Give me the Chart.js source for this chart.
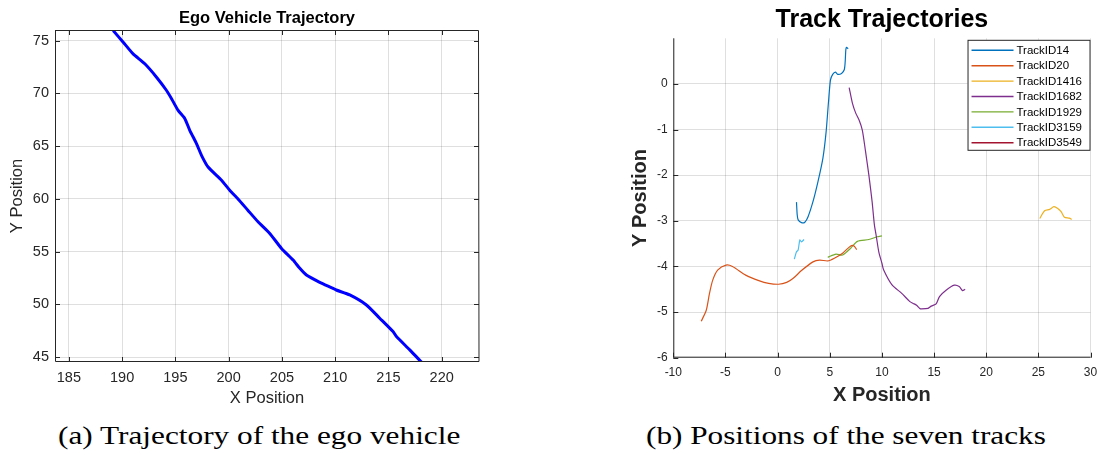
<!DOCTYPE html>
<html>
<head>
<meta charset="utf-8">
<script src="https://cdn.jsdelivr.net/npm/chart.js@4.4.1/dist/chart.umd.min.js"></script>
<style>
  body { margin: 0; background: #fff; width: 1105px; height: 455px; position: relative; overflow: hidden; }
  canvas { position: absolute; top: 0; }
  #egoChart { left: 0; }
  #trackChart { left: 600px; }
  .cap { position: absolute; top: 423px; font-family: "Liberation Serif", "DejaVu Serif", serif; font-size: 26px; line-height: 26px; color: #000; white-space: nowrap; transform-origin: 0 0; }
</style>
</head>
<body>
<canvas id="egoChart" width="500" height="410"></canvas>
<canvas id="trackChart" width="505" height="410"></canvas>
<div class="cap" id="capA" style="left:58px">(a) Trajectory of the ego vehicle</div>
<div class="cap" id="capB" style="left:646px">(b) Positions of the seven tracks</div>
<script>
// ego vehicle path
var egoX = [189.16, 190.1, 191.03, 192.13, 193.23, 194.17, 194.64, 195.26, 195.89, 196.35, 196.98, 197.45, 198.07, 199.33, 200.1, 200.9, 201.8, 202.76, 203.86, 204.96, 206.05, 206.68, 207.3, 208.55, 209.8, 210.1, 211.37, 212.93, 214.18, 215.43, 215.75, 217, 218.1];
var egoY = [75.95, 74.84, 73.74, 72.8, 71.53, 70.27, 69.49, 68.38, 67.6, 66.5, 65.24, 64.13, 63.02, 61.77, 60.82, 59.97, 58.93, 57.83, 56.73, 55.31, 54.21, 53.42, 52.79, 52.1, 51.53, 51.37, 50.9, 49.95, 48.7, 47.43, 46.96, 45.7, 44.54];

// tracks
var trackNames = ['TrackID14', 'TrackID20', 'TrackID1416', 'TrackID1682', 'TrackID1929', 'TrackID3159', 'TrackID3549'];
var trackColors = ['#0072BD', '#D95319', '#EDB120', '#7E2F8E', '#77AC30', '#4DBEEE', '#A2142F'];

var track14X = [1.81, 1.88, 1.97, 2.29, 2.61, 2.92, 3.39, 3.87, 4.34, 4.65, 4.88, 5.07, 5.28, 5.54, 5.76, 6.13, 6.39, 6.48, 6.54, 6.61, 6.77];
var track14Y = [-2.59, -2.87, -2.98, -3.04, -3.03, -2.91, -2.58, -2.14, -1.63, -1.05, -0.39, 0.09, 0.21, 0.26, 0.21, 0.23, 0.31, 0.49, 0.75, 0.80, 0.77];
var track20X = [-7.32, -6.84, -6.53, -6.22, -5.75, -4.95, -4.33, -3.06, -1.8, -0.86, 0.09, 0.87, 1.5, 2.29, 3.39, 4.03, 4.81, 5.44, 6.23, 7.01, 7.33, 7.58];
var track20Y = [-5.2, -4.96, -4.59, -4.3, -4.08, -3.97, -4.0, -4.19, -4.31, -4.37, -4.39, -4.35, -4.26, -4.09, -3.9, -3.86, -3.88, -3.82, -3.71, -3.55, -3.55, -3.63];
var track1416X = [25.13, 25.6, 26.08, 26.49, 26.86, 27.18, 27.5, 27.97, 28.19];
var track1416Y = [-2.95, -2.78, -2.75, -2.69, -2.73, -2.8, -2.92, -2.94, -2.97];
var track1682X = [6.86, 7.17, 7.49, 7.81, 8.12, 8.43, 8.75, 9.06, 9.28, 9.47, 9.7, 10.0, 10.17, 10.95, 11.9, 12.68, 13.0, 13.32, 13.63, 13.79, 14.42, 14.73, 15.2, 15.52, 16.15, 16.94, 17.41, 17.73, 17.98];
var track1682Y = [-0.08, -0.42, -0.64, -0.79, -1.01, -1.48, -2.0, -2.58, -3.09, -3.35, -3.68, -3.93, -4.08, -4.4, -4.59, -4.77, -4.81, -4.85, -4.92, -4.93, -4.92, -4.87, -4.82, -4.66, -4.52, -4.41, -4.44, -4.53, -4.5];
var track1929X = [4.81, 5.6, 6.23, 7.01, 7.65, 8.75, 9.54, 10.0];
var track1929Y = [-3.8, -3.73, -3.75, -3.6, -3.45, -3.41, -3.35, -3.33];
var track3159X = [1.6, 1.81, 1.97, 2.13, 2.29, 2.54];
var track3159Y = [-3.84, -3.68, -3.64, -3.42, -3.46, -3.41];
var track3549X = [];
var track3549Y = [];

var trackXs = [track14X, track20X, track1416X, track1682X, track1929X, track3159X, track3549X];
var trackYs = [track14Y, track20Y, track1416Y, track1682Y, track1929Y, track3159Y, track3549Y];

var axisColor = '#262626';
var gridColor = 'rgba(38,38,38,0.15)';
var sans = '"Liberation Sans", Arial, sans-serif';

function toPoints(xs, ys) {
    return xs.map(function (x, i) { return { x: x, y: ys[i] }; });
}

// matlab style axes: lines + ticks pointing inwards
function axesFrame(boxed) {
    return {
        id: 'axesFrame',
        afterDatasetsDraw: function (chart) {
            var ctx = chart.ctx;
            var a = chart.chartArea;
            var xs = chart.scales.x, ys = chart.scales.y;
            var len = 5;
            ctx.save();
            ctx.strokeStyle = axisColor;
            ctx.lineWidth = 1;
            ctx.beginPath();
            ctx.moveTo(a.left + 0.5, a.top);
            ctx.lineTo(a.left + 0.5, a.bottom - 0.5);
            ctx.lineTo(a.right, a.bottom - 0.5);
            if (boxed) {
                ctx.lineTo(a.right - 0.5, a.top + 0.5);
                ctx.lineTo(a.left + 0.5, a.top + 0.5);
            }
            xs.ticks.forEach(function (t) {
                var px = Math.round(xs.getPixelForValue(t.value)) + 0.5;
                ctx.moveTo(px, a.bottom);
                ctx.lineTo(px, a.bottom - len);
                if (boxed) {
                    ctx.moveTo(px, a.top);
                    ctx.lineTo(px, a.top + len);
                }
            });
            ys.ticks.forEach(function (t) {
                var py = Math.round(ys.getPixelForValue(t.value)) + 0.5;
                ctx.moveTo(a.left, py);
                ctx.lineTo(a.left + len, py);
                if (boxed) {
                    ctx.moveTo(a.right, py);
                    ctx.lineTo(a.right - len, py);
                }
            });
            ctx.stroke();
            ctx.restore();
        }
    };
}

// title centred over the plot area rather than the canvas
var plotTitle = {
    id: 'plotTitle',
    afterDraw: function (chart, args, opts) {
        var ctx = chart.ctx;
        var a = chart.chartArea;
        ctx.save();
        ctx.font = 'bold ' + opts.size + 'px ' + sans;
        ctx.fillStyle = '#000';
        ctx.textAlign = 'center';
        ctx.textBaseline = 'middle';
        ctx.fillText(opts.text, (a.left + a.right) / 2, opts.y);
        ctx.restore();
    }
};

// boxed legend in the upper right corner
var trackLegend = {
    id: 'trackLegend',
    afterDraw: function (chart) {
        var ctx = chart.ctx;
        var a = chart.chartArea;
        var w = 123, rowH = 15.4;
        var left = a.right - w, top = a.top + 1.5;
        var h = 111;
        ctx.save();
        ctx.fillStyle = '#fff';
        ctx.fillRect(left, top, w, h);
        ctx.strokeStyle = axisColor;
        ctx.lineWidth = 1;
        ctx.strokeRect(left + 0.5, top + 0.5, w - 1, h - 1);
        ctx.font = '11.5px ' + sans;
        ctx.textBaseline = 'middle';
        ctx.fillStyle = '#000';
        chart.data.datasets.forEach(function (ds, i) {
            var y = top + 10.5 + i * rowH;
            ctx.strokeStyle = ds.borderColor;
            ctx.lineWidth = 1.4;
            ctx.beginPath();
            ctx.moveTo(left + 4, y);
            ctx.lineTo(left + 46, y);
            ctx.stroke();
            ctx.fillText(ds.label, left + 49, y + 0.5);
        });
        ctx.restore();
    }
};

var egoChart = new Chart(document.getElementById('egoChart'), {
    type: 'scatter',
    data: {
        datasets: [{
            data: toPoints(egoX, egoY),
            showLine: true,
            borderColor: '#0000ff',
            borderWidth: 3,
            pointRadius: 0,
            tension: 0.2
        }]
    },
    options: {
        responsive: false,
        animation: false,
        devicePixelRatio: 1,
        layout: { padding: { left: 0, right: 21, top: 30, bottom: 0 } },
        plugins: {
            legend: { display: false },
            tooltip: { enabled: false },
            plotTitle: { text: 'Ego Vehicle Trajectory', size: 16.5, y: 18 }
        },
        scales: {
            x: {
                type: 'linear',
                min: 183.7,
                max: 223.5,
                afterFit: function (s) { s.height = 48; },
                border: { display: false },
                grid: { color: gridColor, drawTicks: false },
                ticks: { stepSize: 5, includeBounds: false, padding: 7, color: axisColor, font: { family: sans, size: 14.5 } },
                title: { display: true, text: 'X Position', color: axisColor, font: { family: sans, size: 16.5 }, padding: { top: 0, bottom: 2 } }
            },
            y: {
                type: 'linear',
                min: 44.55,
                max: 76,
                afterFit: function (s) { s.width = 55; },
                border: { display: false },
                grid: { color: gridColor, drawTicks: false },
                ticks: { stepSize: 5, includeBounds: false, padding: 6, color: axisColor, font: { family: sans, size: 14.5 } },
                title: { display: true, text: 'Y Position', color: axisColor, font: { family: sans, size: 16.5 }, padding: { top: 8, bottom: 0 } }
            }
        }
    },
    plugins: [axesFrame(true), plotTitle]
});

var trackChart = new Chart(document.getElementById('trackChart'), {
    type: 'scatter',
    data: {
        datasets: trackNames.map(function (name, i) {
            return {
                label: name,
                data: toPoints(trackXs[i], trackYs[i]),
                showLine: true,
                borderColor: trackColors[i],
                borderWidth: 1.2,
                pointRadius: 0,
                tension: 0.25
            };
        })
    },
    options: {
        responsive: false,
        animation: false,
        devicePixelRatio: 1,
        layout: { padding: { left: 0, right: 8, top: 38.3, bottom: 0 } },
        plugins: {
            legend: { display: false },
            tooltip: { enabled: false },
            plotTitle: { text: 'Track Trajectories', size: 25, y: 20 }
        },
        scales: {
            x: {
                type: 'linear',
                min: -10,
                max: 30,
                afterFit: function (s) { s.height = 52.3; },
                border: { display: false },
                grid: { color: gridColor, drawTicks: false },
                ticks: { stepSize: 5, padding: 7.8, color: axisColor, font: { family: sans, size: 12 } },
                title: { display: true, text: 'X Position', color: axisColor, font: { family: sans, size: 20, weight: 'bold' }, padding: { top: 0, bottom: 3 } }
            },
            y: {
                type: 'linear',
                min: -6,
                max: 1,
                afterFit: function (s) { s.width = 73.3; },
                afterBuildTicks: function (s) {
                    s.ticks = s.ticks.filter(function (t) { return t.value < 1; });
                },
                border: { display: false },
                grid: { color: gridColor, drawTicks: false },
                ticks: { stepSize: 1, padding: 5.6, color: axisColor, font: { family: sans, size: 12 } },
                title: { display: true, text: 'Y Position', color: axisColor, font: { family: sans, size: 20, weight: 'bold' }, padding: { top: 28, bottom: 0 } }
            }
        }
    },
    plugins: [axesFrame(false), trackLegend, plotTitle]
});

// stretch the captions to their set widths
function fitCaption(id, width) {
    var el = document.getElementById(id);
    el.style.transform = 'scaleX(' + (width / el.offsetWidth) + ')';
}
fitCaption('capA', 402);
fitCaption('capB', 400);
</script>
</body>
</html>
